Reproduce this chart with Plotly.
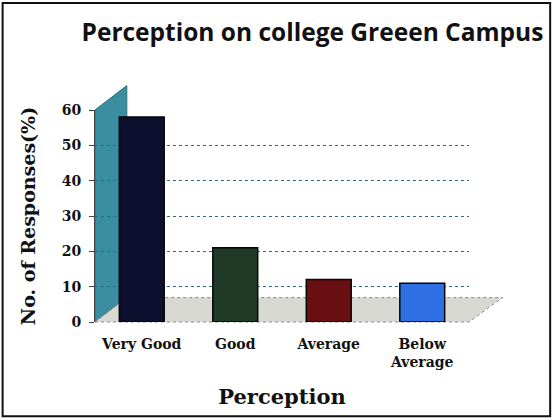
import plotly.graph_objects as go

categories = ["Very Good", "Good", "Average", "Below<br>Average"]
responses = [58, 21, 12, 11]
bar_colors = ["#0c0f2e", "#1f3b27", "#6a0f12", "#2f6fe6"]
y_ticks = [0, 10, 20, 30, 40, 50, 60]

serif = "DejaVu Serif"

fig = go.Figure()
fig.add_trace(go.Bar(
    x=categories, y=responses,
    marker=dict(color=bar_colors, line=dict(color="#050505", width=1.5)),
    width=0.48,
))

fig.update_layout(
    width=553, height=420,
    margin=dict(l=95, r=84, t=110, b=98, autoexpand=False),
    paper_bgcolor="white", plot_bgcolor="white",
    showlegend=False,
    title=dict(text="<b>Perception on college Greeen Campus</b>",
               x=0.565, xanchor="center", y=0.922, yanchor="middle",
               font=dict(family="Open Sans", size=24.5, color="#111")),
    xaxis=dict(
        title=dict(text="<b>Perception</b>", font=dict(family=serif, size=21, color="#111"), standoff=20),
        tickfont=dict(family=serif, size=14, color="#111", weight="bold"),
        ticklabelstandoff=12,
        showline=False, showgrid=False, ticks="", automargin=False,
    ),
    yaxis=dict(
        title=dict(text="<b>No. of Responses(%)</b>", font=dict(family=serif, size=19, color="#111"), standoff=21),
        range=[0, 60], tickvals=y_ticks,
        tickfont=dict(family=serif, size=14, color="#111", weight="bold"),
        ticklabelstandoff=5,
        showline=True, linecolor="#444", linewidth=1,
        ticks="outside", ticklen=5, tickcolor="#444",
        showgrid=True, gridcolor="#2a6e78", griddash="dot", gridwidth=1,
        zeroline=False, automargin=False,
    ),
    shapes=[
        dict(type="rect", xref="paper", yref="paper", x0=-0.247, x1=1.217, y0=-0.445, y1=1.505,
             line=dict(color="#111", width=2), fillcolor="rgba(0,0,0,0)", layer="below"),
        dict(type="path", xref="paper", yref="paper",
             path="M 0,0 L 0,1 L 0.085,1.115 L 0.085,0.115 Z",
             fillcolor="#3a8ea0", line=dict(color="#2a6e78", width=1), layer="below"),
        dict(type="path", xref="paper", yref="paper",
             path="M 0,0 L 1.0,0 L 1.09,0.115 L 0.085,0.115 Z",
             fillcolor="#d9d9d4", line=dict(color="#888", width=1, dash="dot"), layer="below"),
    ],
)

fig.write_html("out.html", post_script="document.body.style.margin='0';",
               config={"displayModeBar": False})
